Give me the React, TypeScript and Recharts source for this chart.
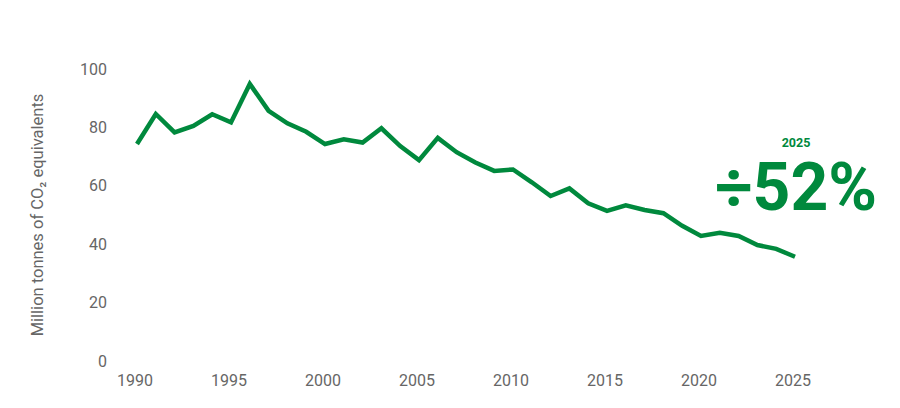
import { Line, LineChart, XAxis, YAxis } from "recharts";

const years = [
  1990, 1991, 1992, 1993, 1994, 1995, 1996, 1997, 1998, 1999, 2000, 2001,
  2002, 2003, 2004, 2005, 2006, 2007, 2008, 2009, 2010, 2011, 2012, 2013,
  2014, 2015, 2016, 2017, 2018, 2019, 2020, 2021, 2022, 2023, 2024, 2025,
];

const emissions = [
  74.3, 84.6, 78.3, 80.5, 84.5, 81.7, 94.9, 85.7, 81.4, 78.5, 74.3, 75.9,
  74.8, 79.7, 73.6, 68.8, 76.4, 71.5, 68.0, 65.1, 65.6, 61.2, 56.5, 59.1,
  54.0, 51.4, 53.3, 51.7, 50.6, 46.3, 42.8, 43.9, 42.8, 39.7, 38.4, 35.7,
];

const xTicks = [1990, 1995, 2000, 2005, 2010, 2015, 2020, 2025];
const yTicks = [0, 20, 40, 60, 80, 100];

const data = years.map((year, i) => ({ year, value: emissions[i] }));

const GREEN = "#00893d";
const GREY = "#666666";
const FONT = "Roboto, sans-serif";

export default function App() {
  return (
    <div style={{ position: "absolute", left: 0, top: 0, width: 900, height: 408 }}>
      <LineChart
        width={900}
        height={408}
        data={data}
        margin={{ top: 69, right: 105, bottom: 0, left: 0 }}
      >
        <XAxis
          dataKey="year"
          type="number"
          domain={[1990, 2025]}
          ticks={xTicks}
          axisLine={false}
          tickLine={false}
          tickSize={0}
          tickMargin={14}
          height={47}
          tick={{ fill: GREY, fontSize: 16, fontFamily: FONT, dx: -2 }}
        />
        <YAxis
          domain={[0, 100]}
          ticks={yTicks}
          axisLine={false}
          tickLine={false}
          tickSize={0}
          tickMargin={30}
          width={137}
          tick={{ fill: GREY, fontSize: 16, fontFamily: FONT }}
          label={{
            value: "Million tonnes of CO₂ equivalents",
            angle: -90,
            position: "insideLeft",
            offset: 37,
            fill: GREY,
            fontSize: 16.5,
            fontFamily: FONT,
            style: { textAnchor: "middle" },
          }}
        />
        <Line
          type="linear"
          dataKey="value"
          stroke={GREEN}
          strokeWidth={4.5}
          dot={false}
          isAnimationActive={false}
        />
      </LineChart>
      <svg
        width={900}
        height={408}
        style={{ position: "absolute", left: 0, top: 0, pointerEvents: "none" }}
      >
        <text
          x={796}
          y={147}
          textAnchor="middle"
          fill={GREEN}
          fontFamily={FONT}
          fontWeight={700}
          fontSize={12.5}
        >
          2025
        </text>
        <text
          x={796}
          y={210}
          textAnchor="middle"
          fill={GREEN}
          fontFamily={FONT}
          fontWeight={700}
          fontSize={66}
        >
          ÷52%
        </text>
      </svg>
    </div>
  );
}
